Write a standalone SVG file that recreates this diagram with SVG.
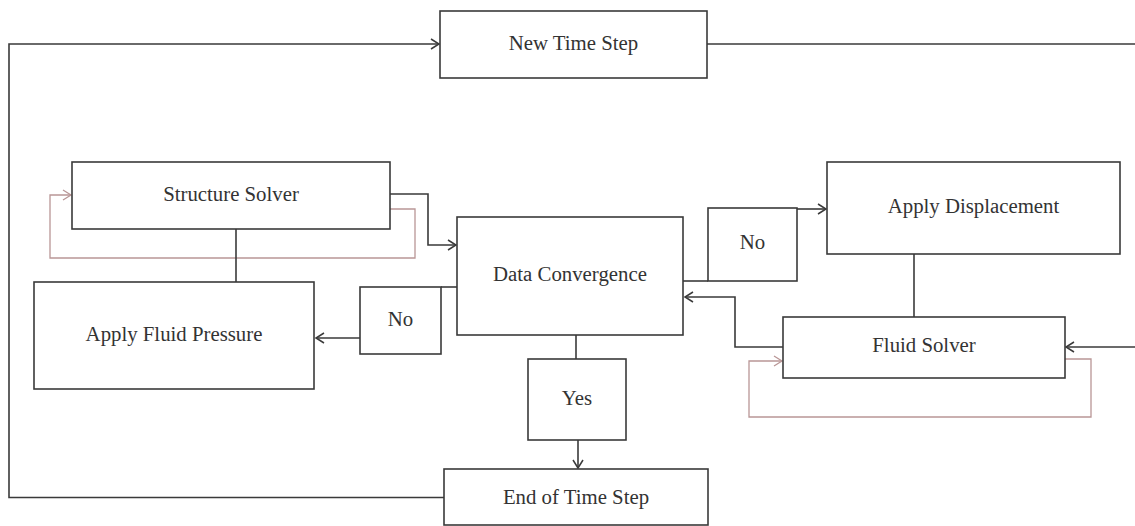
<svg xmlns="http://www.w3.org/2000/svg" width="1135" height="526" viewBox="0 0 1135 526">
<style>
.box{fill:#fff;stroke:#3a3a3a;stroke-width:1.6}
.ln{fill:none;stroke:#3a3a3a;stroke-width:1.6}
.pk{fill:none;stroke:#b99696;stroke-width:1.3}
.t{font-family:"Liberation Serif",serif;font-size:20.8px;fill:#333;text-anchor:middle}
</style>
<defs>
<marker id="ah" markerUnits="userSpaceOnUse" markerWidth="12" markerHeight="14" refX="9" refY="6" orient="auto">
<path d="M1,1 L9,6 L1,11" fill="none" stroke="#3a3a3a" stroke-width="1.5"/>
</marker>
<marker id="ahp" markerUnits="userSpaceOnUse" markerWidth="12" markerHeight="14" refX="9" refY="6" orient="auto">
<path d="M1,1 L9,6 L1,11" fill="none" stroke="#b99696" stroke-width="1.3"/>
</marker>
</defs>
<rect width="1135" height="526" fill="#fff"/>
<g id="connectors">
<path class="ln" d="M444,497.5 H9 V44 H439" marker-end="url(#ah)"/>
<path class="ln" d="M707,44 H1135"/>
<path class="ln" d="M1135,347 H1066" marker-end="url(#ah)"/>
<path class="pk" d="M390,209 H415 V258 H50 V195 H71" marker-end="url(#ahp)"/>
<path class="ln" d="M390,194 H428 V245 H456" marker-end="url(#ah)"/>
<path class="ln" d="M236,229 V282"/>
<path class="ln" d="M457,287 H441"/>
<path class="ln" d="M360,338 H316" marker-end="url(#ah)"/>
<path class="ln" d="M576,335 V359"/>
<path class="ln" d="M578,440 V468" marker-end="url(#ah)"/>
<path class="ln" d="M683,281 H708"/>
<path class="ln" d="M797,209 H826" marker-end="url(#ah)"/>
<path class="ln" d="M914,254 V317"/>
<path class="ln" d="M783,347 H735 V297 H685" marker-end="url(#ah)"/>
<path class="pk" d="M1065,359 H1091 V417 H749 V361 H782" marker-end="url(#ahp)"/>
</g>
<g id="new-time-step"><rect class="box" x="440" y="11" width="267" height="67"/><text class="t" x="573.5" y="50">New Time Step</text></g>
<g id="structure-solver"><rect class="box" x="72" y="162" width="318" height="67"/><text class="t" x="231" y="201">Structure Solver</text></g>
<g id="apply-fluid-pressure"><rect class="box" x="34" y="282" width="280" height="107"/><text class="t" x="174" y="341">Apply Fluid Pressure</text></g>
<g id="no-left"><rect class="box" x="360" y="287" width="81" height="67"/><text class="t" x="400.5" y="326">No</text></g>
<g id="data-convergence"><rect class="box" x="457" y="217" width="226" height="118"/><text class="t" x="570" y="281">Data Convergence</text></g>
<g id="yes"><rect class="box" x="528" y="359" width="98" height="81"/><text class="t" x="577" y="405">Yes</text></g>
<g id="end-of-time-step"><rect class="box" x="444" y="469" width="264" height="56"/><text class="t" x="576" y="504">End of Time Step</text></g>
<g id="no-right"><rect class="box" x="708" y="208" width="89" height="73"/><text class="t" x="752.5" y="249">No</text></g>
<g id="apply-displacement"><rect class="box" x="827" y="162" width="293" height="92"/><text class="t" x="973.5" y="213">Apply Displacement</text></g>
<g id="fluid-solver"><rect class="box" x="783" y="317" width="282" height="61"/><text class="t" x="924" y="352">Fluid Solver</text></g>
</svg>
